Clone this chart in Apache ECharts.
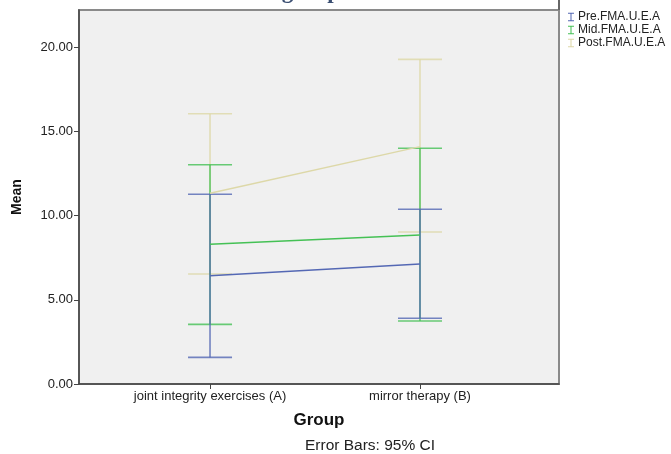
<!DOCTYPE html>
<html><head><meta charset="utf-8">
<script src="https://cdn.jsdelivr.net/npm/echarts@6/dist/echarts.min.js"></script>
<style>html,body{margin:0;padding:0;background:#fff}#c{width:671px;height:454px}</style>
</head><body><div id="c"></div>
<script>
var categories = ['joint integrity exercises (A)', 'mirror therapy (B)'];
var seriesNames = ['Pre.FMA.U.E.A', 'Mid.FMA.U.E.A', 'Post.FMA.U.E.A'];
var preMean = [6.43, 7.12];
var preLow = [1.58, 3.90];
var preHigh = [11.26, 10.37];
var midMean = [8.29, 8.84];
var midLow = [3.54, 3.74];
var midHigh = [13.01, 13.99];
var postMean = [11.32, 14.09];
var postLow = [6.53, 9.02];
var postHigh = [16.04, 19.27];
var yTicks = [0, 5, 10, 15, 20];
var colors = ['#5468b4', '#45c155', '#ddd8a8'];

var means = [preMean, midMean, postMean];
var lows = [preLow, midLow, postLow];
var highs = [preHigh, midHigh, postHigh];

var chart = echarts.init(document.getElementById('c'), null, {renderer: 'canvas'});
var series = [];
var errOrder = [2, 1, 0];
errOrder.forEach(function (s) {
  series.push({
    type: 'custom',
    name: seriesNames[s] + ' err',
    silent: true,
    z: 2,
    data: categories.map(function (c, i) { return [i, lows[s][i], highs[s][i]]; }),
    renderItem: function (params, api) {
      var lo = api.coord([api.value(0), api.value(1)]);
      var hi = api.coord([api.value(0), api.value(2)]);
      var hw = 22;
      var st = {stroke: colors[s], lineWidth: 1.6, opacity: 0.8};
      return {type: 'group', children: [
        {type: 'line', shape: {x1: lo[0], y1: lo[1], x2: hi[0], y2: hi[1]}, style: st},
        {type: 'line', shape: {x1: lo[0] - hw, y1: lo[1], x2: lo[0] + hw, y2: lo[1]}, style: st},
        {type: 'line', shape: {x1: hi[0] - hw, y1: hi[1], x2: hi[0] + hw, y2: hi[1]}, style: st}
      ]};
    }
  });
});
seriesNames.forEach(function (n, s) {
  series.push({
    type: 'line',
    name: n,
    z: 3,
    symbol: 'none',
    lineStyle: {color: colors[s], width: 1.5},
    itemStyle: {color: colors[s]},
    data: categories.map(function (c, i) { return [i, means[s][i]]; })
  });
});

var barIcon = 'path://M0,0H7V1.2H4.1V8.8H7V10H0V8.8H2.9V1.2H0Z';
var fam = '"Liberation Sans", Arial, sans-serif';
chart.setOption({
  animation: false,
  grid: {left: 79, right: 112, top: 10, bottom: 70, show: true, backgroundColor: '#f0f0f0', borderColor: '#8a8a8a', borderWidth: 2},
  legend: {
    orient: 'vertical', left: 563, top: 6, itemWidth: 6, itemHeight: 9, itemGap: 1,
    textStyle: {fontFamily: fam, fontSize: 12, color: '#222', padding: [0, 0, 0, -1]},
    data: seriesNames.map(function (n) { return {name: n, icon: barIcon}; })
  },
  xAxis: {
    type: 'value', min: -0.624, max: 1.662,
    splitLine: {show: false},
    axisLine: {show: true, onZero: false, lineStyle: {color: '#444', width: 1.5}},
    axisTick: {show: true, length: 5, customValues: [0, 1], lineStyle: {color: '#444'}},
    axisLabel: {customValues: [0, 1], formatter: function (v) { return categories[Math.round(v)]; },
      fontFamily: fam, fontSize: 13, color: '#222', margin: 6},
    name: 'Group', nameLocation: 'middle', nameGap: 28,
    nameTextStyle: {fontFamily: fam, fontSize: 17, fontWeight: 'bold', color: '#111'}
  },
  yAxis: {
    type: 'value', min: 0, max: 22.2,
    splitLine: {show: false},
    axisLine: {show: true, onZero: false, lineStyle: {color: '#444', width: 1.5}},
    axisTick: {show: true, length: 5, customValues: yTicks, lineStyle: {color: '#444'}},
    axisLabel: {customValues: yTicks, formatter: function (v) { return v.toFixed(2); },
      fontFamily: fam, fontSize: 13, color: '#222', margin: 6},
    name: 'Mean', nameLocation: 'middle', nameGap: 55, nameRotate: 90,
    nameTextStyle: {fontFamily: fam, fontSize: 14, fontWeight: 'bold', color: '#111'}
  },
  graphic: [
    {type: 'text', x: 370, y: 446, style: {text: 'Error Bars: 95% CI', font: '15.5px ' + fam, fill: '#222', align: 'center', verticalAlign: 'middle'}},
    {type: 'text', x: 193, y: 4, style: {text: 'Between group', font: 'bold 23px "Liberation Serif", serif', fill: '#3b4f72', verticalAlign: 'bottom'}},
    {type: 'line', shape: {x1: 559, y1: 0, x2: 559, y2: 10}, style: {stroke: '#666', lineWidth: 2}}
  ],
  series: series
});
</script>
</body></html>
